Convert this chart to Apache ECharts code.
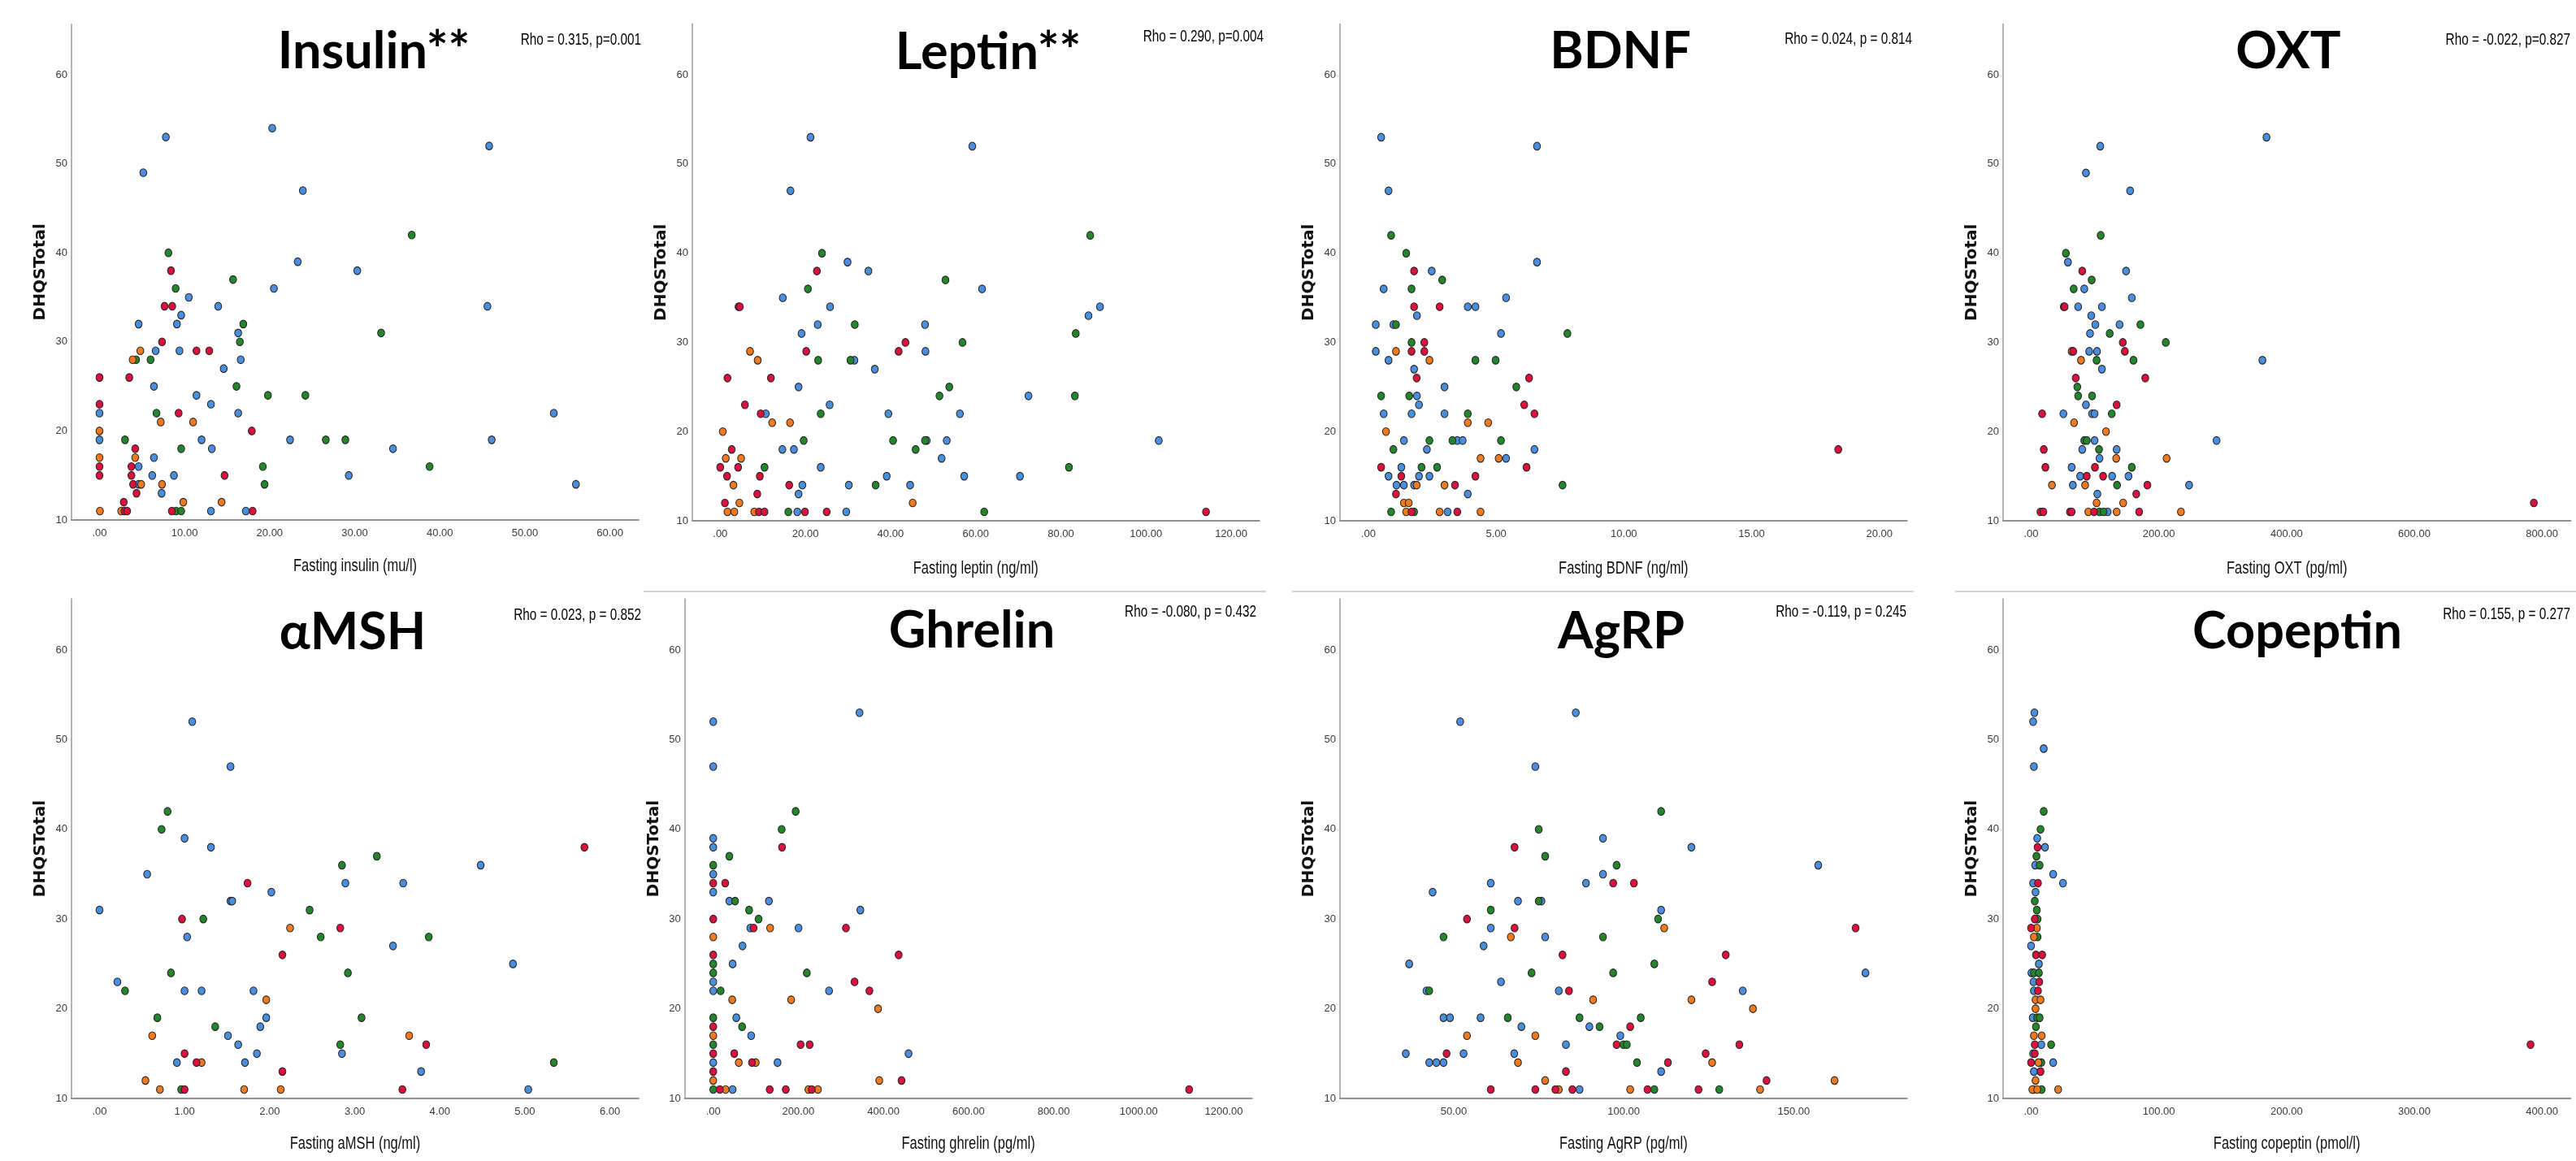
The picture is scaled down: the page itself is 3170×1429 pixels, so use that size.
<!DOCTYPE html>
<html><head><meta charset="utf-8">
<script src="https://cdn.jsdelivr.net/npm/echarts@6/dist/echarts.min.js"></script>
<style>html,body{margin:0;padding:0;background:#fff}#c{width:3170px;height:1429px}</style>
</head><body><div id="c"></div>
<script>
// ---------- DATA ----------
const titles = ['Insulin**','Leptin**','BDNF','OXT','\u03b1MSH','Ghrelin','AgRP','Copeptin'];
const rhoTexts = ['Rho = 0.315, p=0.001','Rho = 0.290, p=0.004','Rho = 0.024, p = 0.814','Rho = -0.022, p=0.827',
  'Rho = 0.023, p = 0.852','Rho = -0.080, p = 0.432','Rho = -0.119, p = 0.245','Rho = 0.155, p = 0.277'];
const xTitles = ['Fasting insulin (mu/l)','Fasting leptin (ng/ml)','Fasting BDNF (ng/ml)','Fasting OXT (pg/ml)',
  'Fasting aMSH (ng/ml)','Fasting ghrelin (pg/ml)','Fasting AgRP (pg/ml)','Fasting copeptin (pmol/l)'];
const yTitle = 'DHQSTotal';
const yTicks = [10,20,30,40,50,60];
const insulinTicks = [0,10,20,30,40,50,60];
const leptinTicks = [0,20,40,60,80,100,120];
const bdnfTicks = [0,5,10,15,20];
const oxtTicks = [0,200,400,600,800];
const amshTicks = [0,1,2,3,4,5,6];
const ghrelinTicks = [0,200,400,600,800,1000,1200];
const agrpTicks = [50,100,150];
const copeptinTicks = [0,100,200,300,400];

// Insulin
const insulinBlue = [[7.8,53],[20.3,54],[5.15,49],[45.8,52],[23.9,47],[23.3,39],[30.3,38],[20.5,36],[10.5,35],[13.95,34],[45.6,34],[9.6,33],[4.6,32],[9.1,32],[16.3,31],[6.6,29],[9.4,29],[16.6,28],[14.6,27],[6.4,25],[11.4,24],[13.1,23],[0,22],[16.3,22],[53.4,22],[0,19],[12.0,19],[22.4,19],[46.1,19],[13.2,18],[34.5,18],[6.4,17],[4.6,16],[6.2,15],[8.75,15],[29.3,15],[56.0,14],[4.6,14],[7.3,13],[13.1,11],[17.2,11]];
const insulinGreen = [[36.7,42],[8.1,40],[15.7,37],[8.95,36],[16.9,32],[33.1,31],[16.5,30],[4.3,28],[6.0,28],[16.1,25],[19.8,24],[24.2,24],[6.7,22],[3.0,19],[26.6,19],[28.9,19],[9.6,18],[19.2,16],[38.8,16],[19.4,14],[9.0,11],[9.6,11]];
const insulinOrange = [[4.8,29],[3.9,28],[7.2,21],[11.0,21],[0,20],[0,17],[4.2,17],[4.9,14],[7.35,14],[9.85,12],[14.35,12],[0.05,11],[2.55,11]];
const insulinRed = [[8.4,38],[7.65,34],[8.55,34],[7.35,30],[11.4,29],[12.9,29],[0,26],[3.5,26],[0,23],[9.3,22],[17.9,20],[4.2,18],[0,16],[3.75,16],[0,15],[3.75,15],[14.7,15],[3.95,14],[4.35,13],[2.85,12],[2.95,11],[3.25,11],[8.5,11],[18.0,11]];

// Leptin
const leptinBlue = [[21.2,53],[59.2,52],[16.5,47],[29.9,39],[34.8,38],[61.5,36],[14.7,35],[25.8,34],[89.2,34],[86.5,33],[22.9,32],[48.1,32],[19.1,31],[48.2,29],[31.5,28],[36.3,27],[18.4,25],[72.4,24],[25.7,23],[10.7,22],[39.5,22],[56.3,22],[48.5,19],[53.2,19],[103.0,19],[14.6,18],[17.3,18],[52.0,17],[23.6,16],[39.1,15],[57.3,15],[70.4,15],[19.3,14],[30.2,14],[44.6,14],[18.4,13],[18.1,11],[29.6,11]];
const leptinGreen = [[86.9,42],[23.9,40],[52.9,37],[20.6,36],[31.6,32],[83.5,31],[56.9,30],[23.0,28],[30.6,28],[53.8,25],[51.5,24],[83.3,24],[23.6,22],[19.6,19],[40.6,19],[48.1,19],[45.9,18],[10.4,16],[81.9,16],[36.5,14],[16.0,11],[62.0,11]];
const leptinOrange = [[7.0,29],[8.8,28],[12.2,21],[16.4,21],[0.6,20],[1.3,17],[4.9,17],[3.1,14],[4.5,12],[45.2,12],[1.7,11],[3.3,11],[8.0,11]];
const leptinRed = [[22.7,38],[4.3,34],[4.6,34],[43.5,30],[20.2,29],[41.9,29],[1.7,26],[11.9,26],[5.8,23],[9.5,22],[2.7,18],[0,16],[4.2,16],[1.6,15],[9.3,15],[16.2,14],[8.7,13],[1.1,12],[9.1,11],[10.4,11],[19.9,11],[25.0,11],[114.1,11]];

// BDNF
const bdnfBlue = [[0.5,53],[6.6,52],[0.79,47],[6.6,39],[2.48,38],[0.6,36],[5.39,35],[3.89,34],[4.19,34],[1.9,33],[0.29,32],[0.98,32],[5.19,31],[0.29,29],[0.79,28],[1.79,27],[2.98,25],[1.9,24],[1.98,23],[0.6,22],[1.69,22],[2.98,22],[1.39,19],[3.48,19],[3.69,19],[2.29,18],[6.5,18],[5.39,17],[1.29,16],[0.79,15],[1.98,15],[2.39,15],[1.1,14],[1.39,14],[1.79,14],[3.89,13],[3.1,11]];
const bdnfGreen = [[0.89,42],[1.48,40],[2.89,37],[1.69,36],[1.08,32],[1.69,30],[7.79,31],[4.19,28],[4.98,28],[5.79,25],[0.5,24],[1.6,24],[3.89,22],[2.39,19],[3.29,19],[5.19,19],[0.98,18],[2.08,16],[2.69,16],[7.6,14],[0.89,11],[1.79,11]];
const bdnfOrange = [[1.08,29],[2.39,28],[0.69,20],[3.89,21],[4.69,21],[4.39,17],[5.1,17],[1.89,14],[2.98,14],[1.39,12],[1.58,12],[1.48,11],[2.79,11],[4.39,11]];
const bdnfRed = [[1.79,38],[1.79,34],[2.79,34],[2.19,30],[1.69,29],[2.19,29],[6.29,26],[1.89,26],[6.1,23],[6.5,22],[18.39,18],[0.5,16],[6.19,16],[1.29,15],[4.19,15],[3.39,14],[1.08,13],[1.69,11],[3.48,11]];

// OXT
const oxtBlue = [[368.6,53],[108.3,52],[85.9,49],[155.1,47],[57.7,39],[148.7,38],[83.3,36],[157.7,35],[73.7,34],[110.9,34],[94.2,33],[100.6,32],[138.5,32],[92.3,31],[91.0,29],[103.2,29],[362.2,28],[110.9,27],[85.9,23],[50.6,22],[95.5,22],[99.4,22],[290.4,19],[99.4,19],[80.1,18],[134.0,18],[107.1,17],[63.5,16],[76.9,15],[126.9,15],[152.6,15],[65.4,14],[247.4,14],[103.8,13],[119.9,11]];
const oxtGreen = [[109.0,42],[54.5,40],[94.9,37],[66.7,36],[171.2,32],[123.1,31],[210.9,30],[102.6,28],[160.3,28],[72.4,25],[73.7,24],[95.5,24],[126.3,22],[83.3,19],[87.2,19],[106.4,18],[157.7,16],[134.6,14],[107.1,11],[113.5,11]];
const oxtOrange = [[63.5,29],[78.2,28],[67.3,21],[117.3,20],[133.3,17],[212.2,17],[32.7,14],[84.6,14],[102.6,12],[144.2,12],[89.7,11],[134.0,11],[234.6,11]];
const oxtRed = [[80.1,38],[51.3,34],[52.5,34],[143.6,30],[146.8,29],[66.0,29],[69.9,26],[178.8,26],[134.0,23],[17.3,22],[19.9,18],[22.4,16],[100.0,16],[87.2,15],[112.8,15],[182.1,14],[164.7,13],[787.2,12],[14.7,11],[19.2,11],[60.9,11],[63.5,11],[98.7,11],[169.2,11]];

// aMSH
const amshBlue = [[1.09,52],[1.54,47],[1.0,39],[1.31,38],[4.48,36],[0.56,35],[2.89,34],[3.57,34],[2.02,33],[1.54,32],[1.56,32],[0,31],[1.03,28],[3.45,27],[4.86,25],[0.21,23],[1.0,22],[1.2,22],[1.81,22],[1.96,19],[1.89,18],[1.51,17],[1.63,16],[1.85,15],[2.85,15],[0.91,14],[1.71,14],[3.78,13],[5.04,11]];
const amshGreen = [[0.8,42],[0.73,40],[3.26,37],[2.85,36],[2.47,31],[1.22,30],[2.6,28],[3.87,28],[2.92,24],[0.84,24],[0.3,22],[0.68,19],[3.08,19],[1.36,18],[2.83,16],[5.34,14],[0.96,11]];
const amshOrange = [[2.24,29],[1.96,21],[0.62,17],[3.64,17],[1.2,14],[0.54,12],[0.71,11],[1.7,11],[2.13,11]];
const amshRed = [[5.7,38],[1.74,34],[0.97,30],[2.83,29],[2.15,26],[3.84,16],[1.0,15],[1.14,14],[2.15,13],[1.0,11],[3.56,11]];

// Ghrelin
const ghrelinBlue = [[343.8,53],[0,52],[0,47],[0,39],[0,38],[0,35],[0,33],[37.8,32],[130.8,32],[345.8,31],[87.2,29],[200.5,29],[68.8,27],[45.5,25],[0,23],[0,22],[272.2,22],[54.2,19],[89.1,17],[459.1,15],[0,14],[151.1,14],[45.5,11]];
const ghrelinGreen = [[193.7,42],[160.8,40],[37.8,37],[0,36],[51.3,32],[84.3,31],[106.5,30],[0,25],[0,24],[219.9,24],[17.4,22],[0,19],[67.8,18],[0,16],[0,11]];
const ghrelinOrange = [[133.7,29],[0,28],[44.6,21],[183.1,21],[387.4,20],[0,17],[60.0,14],[99.8,14],[0,12],[390.3,12],[29.1,11],[223.7,11],[246.0,11]];
const ghrelinRed = [[161.7,38],[0,34],[28.1,34],[0,30],[94.9,29],[311.9,29],[435.8,26],[0,26],[332.2,23],[367.1,22],[0,18],[205.3,16],[226.6,16],[0,15],[49.4,15],[91.0,14],[0,13],[442.6,12],[15.5,11],[132.7,11],[170.5,11],[231.5,11],[1118.6,11]];

// AgRP
const agrpBlue = [[85.9,53],[51.9,52],[74.0,47],[93.9,39],[119.9,38],[157.2,36],[93.9,35],[60.9,34],[88.9,34],[43.8,33],[68.9,32],[75.8,32],[111.0,31],[60.9,29],[76.9,28],[58.8,27],[36.9,25],[171.1,24],[63.9,23],[42.0,22],[80.9,22],[135.0,22],[47.0,19],[48.9,19],[57.9,19],[69.9,18],[89.9,18],[99.0,17],[83.0,16],[35.9,15],[52.9,15],[67.8,15],[42.8,14],[44.9,14],[47.0,14],[111.0,13],[87.0,11]];
const agrpGreen = [[111.0,42],[75.0,40],[76.9,37],[97.9,36],[75.0,32],[60.9,31],[110.1,30],[47.0,28],[93.9,28],[109.0,25],[72.9,24],[96.9,24],[42.8,22],[65.9,19],[87.0,19],[105.0,19],[92.9,18],[99.9,16],[100.9,16],[103.9,14],[109.0,11],[128.1,11]];
const agrpOrange = [[111.9,29],[66.8,28],[91.0,21],[119.9,21],[138.0,20],[53.9,17],[74.0,17],[68.9,14],[126.0,14],[76.9,12],[162.0,12],[80.9,11],[101.9,11],[140.1,11]];
const agrpRed = [[67.9,38],[96.9,34],[103.0,34],[53.9,30],[67.9,29],[168.2,29],[82.0,26],[130.0,26],[126.0,23],[83.9,22],[101.9,18],[97.9,16],[134.0,16],[47.9,15],[124.1,15],[113.0,14],[83.0,13],[142.0,12],[60.9,11],[74.0,11],[79.9,11],[84.9,11],[107.0,11],[122.0,11]];

// Copeptin
const copeptinBlue = [[2.6,53],[1.6,52],[9.9,49],[2.2,47],[4.8,39],[10.9,38],[3.2,36],[17.3,35],[25.0,34],[1.6,34],[3.5,33],[0,27],[6.1,25],[0.3,24],[1.9,23],[2.2,22],[1.3,19],[8.0,16],[1.6,15],[17.3,14],[2.2,13],[1.6,11]];
const copeptinGreen = [[9.9,42],[7.4,40],[4.2,37],[6.7,36],[2.9,32],[4.5,31],[5.1,30],[5.1,28],[2.2,24],[6.1,24],[4.8,19],[6.7,19],[3.8,18],[15.7,16],[8.0,14],[8.3,11]];
const copeptinOrange = [[4.5,29],[2.2,28],[3.5,21],[7.4,21],[3.5,20],[2.2,17],[8.3,17],[5.8,14],[3.5,12],[1.0,11],[4.8,11],[21.2,11]];
const copeptinRed = [[5.1,38],[5.4,34],[2.9,30],[0,29],[3.8,26],[8.7,26],[6.4,23],[5.4,22],[2.9,16],[2.9,15],[0,14],[7.4,13],[391.0,16]];

// ---------- LAYOUT / STYLE ----------
const groupColors = ['#4A8FDF','#23862A','#F27A1E','#DD0F3C'];
const panelData = [
  [insulinBlue,insulinGreen,insulinOrange,insulinRed],
  [leptinBlue,leptinGreen,leptinOrange,leptinRed],
  [bdnfBlue,bdnfGreen,bdnfOrange,bdnfRed],
  [oxtBlue,oxtGreen,oxtOrange,oxtRed],
  [amshBlue,amshGreen,amshOrange,amshRed],
  [ghrelinBlue,ghrelinGreen,ghrelinOrange,ghrelinRed],
  [agrpBlue,agrpGreen,agrpOrange,agrpRed],
  [copeptinBlue,copeptinGreen,copeptinOrange,copeptinRed]
];
const panelTicks = [insulinTicks,leptinTicks,bdnfTicks,oxtTicks,amshTicks,ghrelinTicks,agrpTicks,copeptinTicks];
const L = [
  {l:88,   r:786,    t:29.5, b:640,  xmin:-3.29, xmax:63.38, tx:460,  ty:84,  rx:789,  ry:56,  ny:697},
  {l:852,  r:1549.6, t:29.5, b:641,  xmin:-6.55, xmax:126.6, tx:1216, ty:85,  rx:1555, ry:52,  ny:700},
  {l:1649, r:2346.7, t:29.5, b:641,  xmin:-1.11, xmax:21.08, tx:1994, ty:84,  rx:2353, ry:55,  ny:700},
  {l:2465, r:3163.4, t:29.5, b:641,  xmin:-43.8, xmax:844.8, tx:2816, ty:84,  rx:3163, ry:56,  ny:700},
  {l:88,   r:786,    t:737,  b:1352, xmin:-0.329,xmax:6.338, tx:434,  ty:799, rx:789,  ry:764, ny:1408},
  {l:842.7,r:1540.5, t:737,  b:1352, xmin:-66.9, xmax:1266,  tx:1196, ty:797, rx:1546, ry:760, ny:1408},
  {l:1649, r:2346.7, t:737,  b:1352, xmin:16.56, xmax:183.3, tx:1995, ty:798, rx:2346, ry:760, ny:1408},
  {l:2465, r:3163.4, t:737,  b:1352, xmin:-21.9, xmax:422.4, tx:2827, ty:798, rx:3163, ry:763, ny:1408}
];
const SANS = '"Liberation Sans Narrow","Liberation Sans",Arial,sans-serif';
const fmtX = v => (v === 0 ? '.00' : Number(v).toFixed(2));

const grid = [], xAxis = [], yAxis = [], series = [], graphic = [];
L.forEach((p, i) => {
  grid.push({left:p.l, top:p.t, width:p.r - p.l, height:p.b - p.t, containLabel:false});
  xAxis.push({
    type:'value', gridIndex:i, min:p.xmin, max:p.xmax,
    axisLine:{show:true, onZero:false, lineStyle:{color:'#8f8f8f', width:2}},
    axisTick:{show:false}, splitLine:{show:false},
    axisLabel:{customValues:panelTicks[i], formatter:fmtX, color:'#3a3a3a', fontFamily:SANS, fontSize:13, margin:10}
  });
  yAxis.push({
    type:'value', gridIndex:i, min:10, max:65.7,
    axisLine:{show:true, onZero:false, lineStyle:{color:'#9a9a9a', width:1.5}},
    axisTick:{show:false}, splitLine:{show:false},
    axisLabel:{customValues:yTicks, color:'#3a3a3a', fontFamily:SANS, fontSize:13, margin:5},
    name:yTitle, nameLocation:'middle', nameGap:28,
    nameTextStyle:{color:'#111', fontFamily:'"DejaVu Sans",sans-serif', fontWeight:'bold', fontSize:20}
  });
  panelData[i].forEach((arr, g) => {
    series.push({
      type:'scatter', xAxisIndex:i, yAxisIndex:i, data:arr,
      symbol:'circle', symbolSize:[8.5,9.5],
      itemStyle:{color:groupColors[g], borderColor:'#262626', borderWidth:1.1, opacity:1},
      silent:true
    });
  });
  graphic.push({type:'text', x:p.tx, y:p.ty - 20, silent:true,
    style:{text:titles[i], fill:'#000', font:'bold 63px Lato, "Open Sans", sans-serif', textAlign:'center', textVerticalAlign:'middle'}});
  graphic.push({type:'text', x:p.rx, y:p.ry - 7, scaleX:0.73, silent:true,
    style:{text:rhoTexts[i], fill:'#000', font:'21px ' + SANS, textAlign:'right', textVerticalAlign:'middle'}});
  graphic.push({type:'text', x:(p.l + p.r) / 2, y:p.ny, scaleX:0.75, silent:true,
    style:{text:xTitles[i], fill:'#111', font:'22px ' + SANS, textAlign:'center', textVerticalAlign:'middle'}});
});
[[792,1558],[1590,2355],[2406,3170]].forEach(s => {
  graphic.push({type:'line', silent:true, shape:{x1:s[0], y1:728, x2:s[1], y2:728}, style:{stroke:'#c4c4c4', lineWidth:1.5}});
});

const chart = echarts.init(document.getElementById('c'), null, {renderer:'canvas'});
chart.setOption({animation:false, backgroundColor:'#ffffff', grid, xAxis, yAxis, series, graphic});
</script></body></html>
